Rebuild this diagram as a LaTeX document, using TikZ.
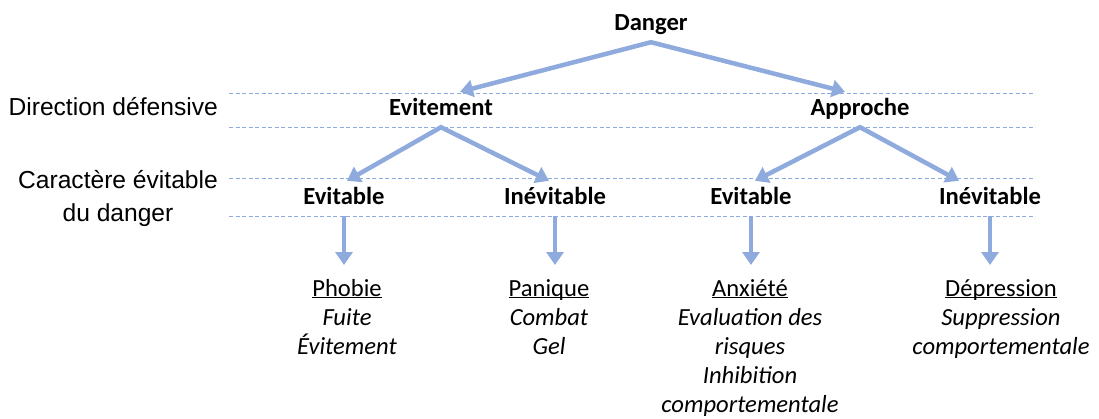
\documentclass[tikz,border=0pt]{standalone}
\usepackage{fontspec}
\setmainfont{Carlito}
\newfontfamily\arialfont{Liberation Sans}
\usetikzlibrary{arrows.meta}
\definecolor{bleuclair}{HTML}{8FAADC}
\newcommand\taille{\fontsize{24.6}{29}\selectfont}
\newcommand\souligne[1]{\setbox0\hbox{#1}\rlap{\rule[-2pt]{\wd0}{1pt}}\box0}

\begin{document}
\begin{tikzpicture}[x=1pt,y=-1pt,
    niveau/.style={font=\taille\bfseries, text height=17pt, text depth=6pt, inner xsep=0pt, inner ysep=6pt, anchor=base},
    fleche/.style={draw=bleuclair, line width=4.5pt, -{Triangle[length=13pt,width=17pt]}},
    fourche/.style={draw=bleuclair, line width=4.5pt, {Triangle[length=13pt,width=17pt]}-{Triangle[length=13pt,width=17pt]}},
    pointille/.style={draw=bleuclair, line width=0.8pt, dash pattern=on 4pt off 2.5pt},
    issue/.style={font=\taille, align=center, anchor=north, inner xsep=0pt, inner ysep=14pt},
    rubrique/.style={font=\arialfont\fontsize{24.6}{33}\selectfont, align=center, inner sep=0pt}]
    \useasboundingbox (0,0) rectangle (1099,418);

    \foreach \y in {93,127,178,216} \draw[pointille] (229,\y) -- (1035,\y);

    \node[rubrique, anchor=base east] (direction) at (218,115) {Direction défensive};
    \node[rubrique, anchor=north east] (caractere) at (218,170) {Caractère évitable\\du danger};

    \node[niveau] (danger) at (651,30) {Danger};
    \node[niveau] (evit) at (441,115) {Evitement};
    \node[niveau] (appr) at (860,115) {Approche};
    \node[niveau] (ev1) at (344,204) {Evitable};
    \node[niveau] (inev1) at (555,204) {Inévitable};
    \node[niveau] (ev2) at (751,204) {Evitable};
    \node[niveau] (inev2) at (990,204) {Inévitable};

    \node[issue] (phobie) at (347,265) {\souligne{Phobie}\\\textit{Fuite}\\\textit{Évitement}};
    \node[issue] (panique) at (549,265) {\souligne{Panique}\\\textit{Combat}\\\textit{Gel}};
    \node[issue] (anxiete) at (750,265) {\souligne{Anxiété}\\\textit{Evaluation des}\\\textit{risques}\\\textit{Inhibition}\\\textit{comportementale}};
    \node[issue] (depression) at (1001,265) {\souligne{Dépression}\\\textit{Suppression}\\\textit{comportementale}};

    \draw[fourche] ([xshift=19pt]evit.north) -- (danger.south) -- ([xshift=-15pt]appr.north);
    \draw[fourche] ([xshift=3pt]ev1.north) -- (evit.south) -- ([xshift=-6pt]inev1.north);
    \draw[fourche] ([xshift=4pt]ev2.north) -- (appr.south) -- ([xshift=-31pt]inev2.north);

    \foreach \a/\b in {ev1/phobie,inev1/panique,ev2/anxiete,inev2/depression}
        \draw[fleche] (\a.south) -- (\a.south |- \b.north);
\end{tikzpicture}
\end{document}
